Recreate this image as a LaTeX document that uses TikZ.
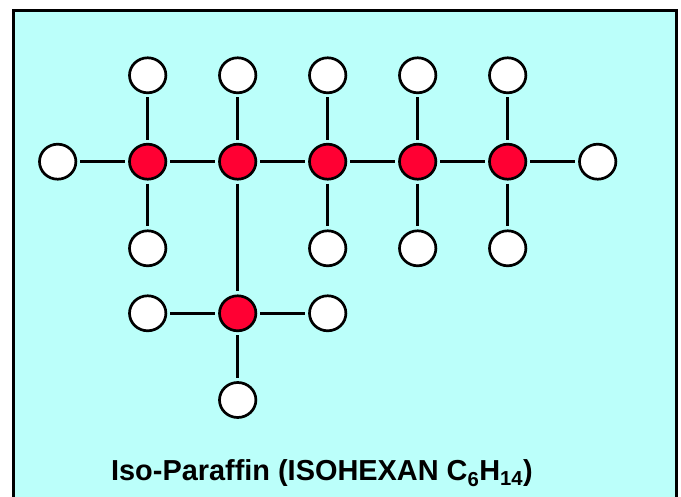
\documentclass[tikz,border=0pt]{standalone}
\usepackage{fontspec}
\setmainfont{Liberation Sans}
\usetikzlibrary{shapes.geometric}
\definecolor{panelcyan}{RGB}{187,255,250}
\definecolor{atomred}{RGB}{255,0,51}
\tikzset{
  atom/.style={draw,ellipse,line width=2.7pt,minimum width=36.4pt,minimum height=35pt,inner sep=0pt,outer sep=4.4pt},
  carbon/.style={atom,fill=atomred},
  hydrogen/.style={atom,fill=white},
  bond/.style={line width=2.8pt}
}
\begin{document}
\begin{tikzpicture}[x=1pt,y=-1pt]
\useasboundingbox (0,0) rectangle (681,497);
\fill[panelcyan] (13.5,10.5) rectangle (676.5,497);
\draw[line width=2.8pt,line join=miter] (13.5,497) -- (13.5,10.5) -- (676.5,10.5) -- (676.5,497);

% carbon atoms
\foreach \i/\x in {1/147.7,2/237.7,3/327.7,4/417.7,5/507.7}
\node[carbon] (c\i) at (\x,161.7) {};
\node[carbon] (c6) at (237.7,313.3) {};

% hydrogen atoms
\foreach \i/\x in {1/147.7,2/237.7,3/327.7,4/417.7,5/507.7}
\node[hydrogen] (t\i) at (\x,75.3) {};
\foreach \i/\x in {1/147.7,3/327.7,4/417.7,5/507.7}
\node[hydrogen] (b\i) at (\x,248.3) {};
\node[hydrogen] (w) at (57.7,161.7) {};
\node[hydrogen] (e) at (597.7,161.7) {};
\node[hydrogen] (l6) at (147.7,313.3) {};
\node[hydrogen] (r6) at (327.7,313.3) {};
\node[hydrogen] (b6) at (237.7,400) {};

% bonds
\foreach \a/\b in {w/c1,c1/c2,c2/c3,c3/c4,c4/c5,c5/e,c2/c6,l6/c6,c6/r6,c6/b6}
\draw[bond] (\a) -- (\b);
\foreach \i in {1,...,5}
\draw[bond] (t\i) -- (c\i);
\foreach \i in {1,3,4,5}
\draw[bond] (c\i) -- (b\i);

\node[anchor=base,inner sep=0pt,font=\fontsize{28.9}{34}\selectfont\bfseries] (title) at (322,480.5) {Iso-Paraffin (ISOHEXAN C\textsubscript{6}H\textsubscript{14})};
\end{tikzpicture}
\end{document}
